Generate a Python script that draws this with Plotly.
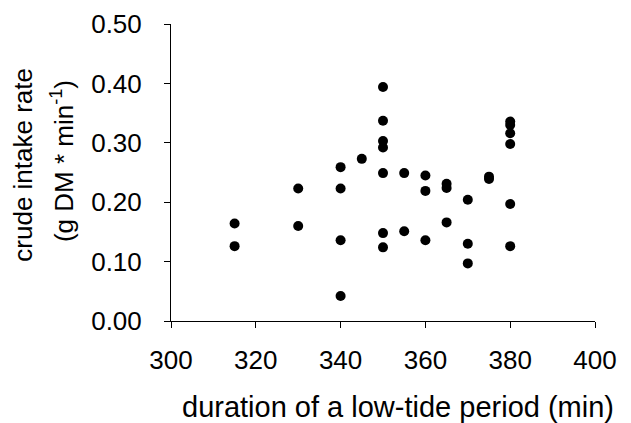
import plotly.graph_objects as go

duration = [315, 315, 330, 330, 340, 340, 340, 340, 345,
            350, 350, 350, 350, 350, 350, 350,
            355, 355, 360, 360, 360, 365, 365, 365,
            370, 370, 370, 375, 375,
            380, 380, 380, 380, 380, 380]
intake = [0.164, 0.126, 0.223, 0.160, 0.259, 0.223, 0.136, 0.042, 0.273,
          0.394, 0.337, 0.303, 0.292, 0.249, 0.148, 0.124,
          0.249, 0.151, 0.245, 0.219, 0.136, 0.231, 0.224, 0.166,
          0.204, 0.130, 0.097, 0.243, 0.239,
          0.336, 0.330, 0.316, 0.298, 0.197, 0.126]

x_ticks = [300, 320, 340, 360, 380, 400]
y_ticks = [0.0, 0.1, 0.2, 0.3, 0.4, 0.5]
y_labels = ["0.00", "0.10", "0.20", "0.30", "0.40", "0.50"]

x_title = "duration of a low-tide period (min)"
y_title_1 = "crude intake rate"
y_title_2 = "(g DM * min<sup>-1</sup>)"

fig = go.Figure(go.Scatter(
    x=duration, y=intake, mode="markers",
    marker=dict(color="black", size=10, line=dict(width=0)),
))

font = "Liberation Sans, Arial, sans-serif"
fig.update_layout(
    width=631, height=423,
    margin=dict(l=171, r=36, t=24, b=102),
    paper_bgcolor="white", plot_bgcolor="white",
    showlegend=False,
    font=dict(family=font, color="black", size=26),
)
fig.update_xaxes(
    range=[300, 400], tickvals=x_ticks, ticktext=[str(v) for v in x_ticks],
    showline=True, linecolor="black", linewidth=1,
    ticks="outside", ticklen=6, tickcolor="black",
    showgrid=False, zeroline=False, automargin=False,
    tickfont=dict(size=26), ticklabelstandoff=10,
)
fig.update_yaxes(
    range=[0, 0.5], tickvals=y_ticks, ticktext=y_labels,
    showline=True, linecolor="black", linewidth=1,
    ticks="outside", ticklen=6, tickcolor="black",
    showgrid=False, zeroline=False, automargin=False,
    tickfont=dict(size=26), ticklabelstandoff=17,
)
fig.add_annotation(text=x_title, xref="paper", yref="paper", x=0.535, y=-0.288,
                   xanchor="center", yanchor="middle", showarrow=False,
                   font=dict(size=29))
fig.add_annotation(text=y_title_1, xref="paper", yref="paper", x=-0.35, y=0.525,
                   xanchor="center", yanchor="middle", showarrow=False,
                   textangle=-90, font=dict(size=26))
fig.add_annotation(text=y_title_2, xref="paper", yref="paper", x=-0.256, y=0.54,
                   xanchor="center", yanchor="middle", showarrow=False,
                   textangle=-90, font=dict(size=26))
fig.write_html("out.html", config={"displayModeBar": False},
               post_script="document.body.style.margin='0';document.body.style.overflow='hidden';")
